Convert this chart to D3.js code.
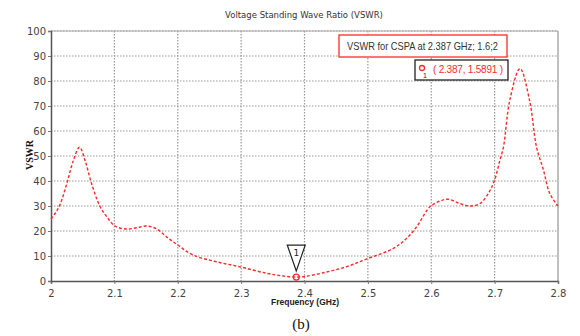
<!DOCTYPE html>
<html>
<head>
<meta charset="utf-8">
<script src="https://cdn.jsdelivr.net/npm/d3@7"></script>
<style>
  body { margin: 0; background: #fff; }
  svg { display: block; }
</style>
</head>
<body>
<div id="chart"></div>
<script>
// values
var freq = [2.0, 2.007, 2.014, 2.025, 2.035, 2.045, 2.054, 2.064, 2.077, 2.088, 2.101, 2.119, 2.135, 2.151, 2.167, 2.182, 2.2,
            2.224, 2.261, 2.301, 2.34, 2.366, 2.387, 2.4, 2.43, 2.466, 2.5, 2.54, 2.561, 2.577, 2.598, 2.614, 2.627,
            2.645, 2.661, 2.677, 2.69, 2.7, 2.708, 2.714, 2.724, 2.74, 2.755, 2.766, 2.777, 2.787, 2.8];
var vswr = [24.8, 27.2, 30.4, 39, 48, 53.5, 48, 39, 30, 25.7, 22, 20.8, 21.3, 22, 20.8, 17.7, 14.4,
            10.4, 7.7, 5.5, 3.1, 2.0, 1.59, 1.8, 3.3, 5.7, 9, 13, 17, 21.7, 29.7, 32, 32.7,
            31, 30, 31, 35, 40.4, 48, 53.7, 72.4, 85, 72.4, 53.7, 44.4, 35, 30];
var xTicks = [2, 2.1, 2.2, 2.3, 2.4, 2.5, 2.6, 2.7, 2.8];
var yTicks = [0, 10, 20, 30, 40, 50, 60, 70, 80, 90, 100];
var markerF = 2.387, markerV = 1.5891;

var W = 580, H = 336;
var margin = {top: 31, right: 22, bottom: 55, left: 51};
var width = W - margin.left - margin.right;
var height = H - margin.top - margin.bottom;

var svg = d3.select("#chart").append("svg")
    .attr("width", W).attr("height", H);

var g = svg.append("g")
    .attr("transform", "translate(" + margin.left + "," + margin.top + ")");

var x = d3.scaleLinear().domain([2, 2.8]).range([0, width]);
var y = d3.scaleLinear().domain([0, 100]).range([height, 0]);

// grid
g.selectAll(".vgrid").data(xTicks.slice(1, -1)).enter().append("line")
    .attr("x1", d => x(d)).attr("x2", d => x(d))
    .attr("y1", 0).attr("y2", height)
    .attr("stroke", "#999").attr("stroke-width", 1.2).attr("stroke-dasharray", "1.5,1.5");
g.selectAll(".hgrid").data(yTicks.slice(1)).enter().append("line")
    .attr("x1", 0).attr("x2", width)
    .attr("y1", d => y(d)).attr("y2", d => y(d))
    .attr("stroke", "#999").attr("stroke-width", 1.2).attr("stroke-dasharray", "1.5,1.5");

// frame
g.append("line").attr("x1", width).attr("x2", width).attr("y1", 0).attr("y2", height)
    .attr("stroke", "#aaa").attr("stroke-width", 1.5);
g.append("line").attr("x1", 0).attr("x2", width).attr("y1", 0).attr("y2", 0)
    .attr("stroke", "#aaa").attr("stroke-width", 1);

var xAxis = d3.axisBottom(x).tickValues(xTicks).tickSize(3).tickFormat(d => d3.format("")(+d.toFixed(1)));
var yAxis = d3.axisLeft(y).tickValues(yTicks).tickSize(3);

var gx = g.append("g").attr("transform", "translate(0," + height + ")").call(xAxis);
var gy = g.append("g").call(yAxis);
[gx, gy].forEach(function(a) {
  a.select(".domain").attr("stroke", "#555").attr("stroke-width", 1.5);
  a.selectAll(".tick line").attr("stroke", "#777");
  a.selectAll("text").attr("fill", "#444")
    .style("font-family", "Tahoma, 'DejaVu Sans', sans-serif").style("font-size", "10px");
});
gx.selectAll("text").attr("dy", "0.95em");
gy.selectAll("text").attr("x", -5);

// curve
var pts = freq.map((f, i) => [f, vswr[i]]);
g.append("path").datum(pts)
    .attr("fill", "none").attr("stroke", "#ff2a2a").attr("stroke-width", 1.4)
    .attr("stroke-dasharray", "3,2")
    .attr("d", d3.line().x(d => x(d[0])).y(d => y(d[1])).curve(d3.curveCatmullRom));

// marker
var mx = x(markerF), my = y(markerV);
g.append("circle").attr("cx", mx).attr("cy", my).attr("r", 3)
    .attr("fill", "none").attr("stroke", "#ff2a2a").attr("stroke-width", 1.3);
g.append("path")
    .attr("d", "M" + (mx - 9) + "," + (my - 32) + "L" + (mx + 9) + "," + (my - 32) + "L" + mx + "," + (my - 6) + "Z")
    .attr("fill", "#fff").attr("stroke", "#222").attr("stroke-width", 1.2);
g.append("text").attr("x", mx).attr("y", my - 21).attr("text-anchor", "middle")
    .style("font-family", "Tahoma, 'DejaVu Sans', sans-serif").style("font-size", "9px").attr("fill", "#222")
    .text("1");

// legend box
svg.append("rect").attr("x", 339).attr("y", 35).attr("width", 168).attr("height", 22)
    .attr("fill", "#fff").attr("stroke", "#ff2a2a").attr("stroke-width", 1.3);
svg.append("text").attr("x", 347).attr("y", 50)
    .attr("textLength", 151).attr("lengthAdjust", "spacingAndGlyphs")
    .style("font-family", "Arial, 'Liberation Sans', sans-serif").style("font-size", "10.5px").attr("fill", "#333")
    .text("VSWR for CSPA at 2.387 GHz; 1.6;2");

// marker readout box
svg.append("rect").attr("x", 415).attr("y", 60).attr("width", 93).attr("height", 20)
    .attr("fill", "#fff").attr("stroke", "#222").attr("stroke-width", 1.3);
svg.append("circle").attr("cx", 422).attr("cy", 68).attr("r", 2.5)
    .attr("fill", "none").attr("stroke", "#ff2a2a").attr("stroke-width", 1.3);
svg.append("text").attr("x", 423).attr("y", 78)
    .style("font-family", "Arial, 'Liberation Sans', sans-serif").style("font-size", "7px").attr("fill", "#222")
    .text("1");
svg.append("text").attr("x", 433).attr("y", 73)
    .attr("textLength", 70).attr("lengthAdjust", "spacing")
    .style("font-family", "Arial, 'Liberation Sans', sans-serif").style("font-size", "10px").attr("fill", "#ff2a2a")
    .text("( " + markerF + ", " + markerV + " )");

// title and labels
svg.append("text").attr("x", 304).attr("y", 18).attr("text-anchor", "middle")
    .style("font-family", "Tahoma, 'DejaVu Sans', sans-serif").style("font-size", "8.5px").attr("fill", "#333")
    .text("Voltage Standing Wave Ratio (VSWR)");
svg.append("text").attr("x", 305).attr("y", 305).attr("text-anchor", "middle")
    .style("font-family", "Arial, 'Liberation Sans', sans-serif").style("font-size", "8.5px")
    .style("font-weight", "bold").attr("fill", "#222")
    .text("Frequency (GHz)");
svg.append("text").attr("transform", "translate(33,155) rotate(-90)").attr("text-anchor", "middle")
    .style("font-family", "'Times New Roman', 'Liberation Serif', serif").style("font-size", "10px")
    .style("font-weight", "bold").attr("fill", "#111")
    .text("VSWR");
svg.append("text").attr("x", 301).attr("y", 329).attr("text-anchor", "middle")
    .style("font-family", "'Times New Roman', 'Liberation Serif', serif").style("font-size", "15px")
    .attr("fill", "#111")
    .text("(b)");
</script>
</body>
</html>
